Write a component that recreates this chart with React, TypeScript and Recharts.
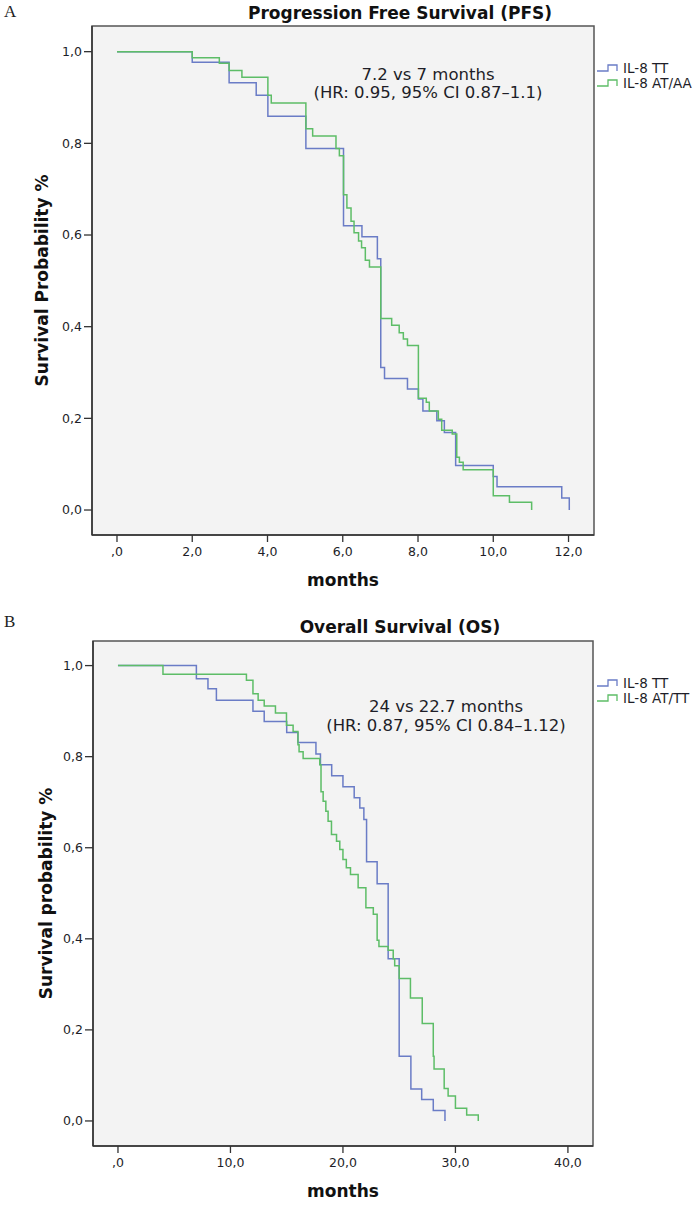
import React from 'react';
import { LineChart, Line, XAxis, YAxis, ReferenceArea, Legend } from 'recharts';

// ---------- Data ----------
// A: Progression Free Survival
const pfsMonthsTT = [0, 2.0, 2.98, 3.70, 4.01, 5.02, 6.02, 6.51, 6.92, 7.01, 7.11, 7.72, 8.01, 8.13, 8.50, 8.70, 9.00, 10.0, 10.1, 11.82, 12.02];
const pfsSurvTT = [1.0, 0.977, 0.932, 0.905, 0.859, 0.789, 0.620, 0.596, 0.548, 0.311, 0.287, 0.264, 0.242, 0.216, 0.195, 0.169, 0.097, 0.073, 0.051, 0.026, 0.0];

const pfsMonthsAT = [0, 2.0, 2.72, 2.98, 3.32, 4.01, 4.10, 5.02, 5.20, 5.82, 5.91, 6.02, 6.11, 6.22, 6.30, 6.42, 6.50, 6.60, 6.71, 7.01, 7.30, 7.50, 7.61, 7.72, 8.01, 8.22, 8.30, 8.54, 8.63, 8.91, 9.03, 9.10, 9.20, 10.0, 10.43, 11.02];
const pfsSurvAT = [1.0, 0.987, 0.975, 0.959, 0.944, 0.905, 0.888, 0.832, 0.816, 0.789, 0.773, 0.688, 0.659, 0.630, 0.605, 0.587, 0.572, 0.545, 0.530, 0.418, 0.403, 0.387, 0.373, 0.359, 0.244, 0.235, 0.216, 0.198, 0.174, 0.166, 0.115, 0.104, 0.088, 0.031, 0.017, 0.0];

// B: Overall Survival
const osMonthsTT = [0, 6.97, 8.0, 8.75, 12.0, 13.0, 15.0, 16.0, 17.6, 18.0, 19.0, 20.0, 21.0, 21.5, 21.86, 22.1, 23.04, 24.02, 25.0, 26.04, 27.0, 28.03, 29.07];
const osSurvTT = [1.0, 0.971, 0.949, 0.924, 0.900, 0.877, 0.853, 0.831, 0.806, 0.782, 0.758, 0.734, 0.710, 0.687, 0.662, 0.569, 0.521, 0.356, 0.142, 0.070, 0.047, 0.023, 0.0];

const osMonthsAT = [0, 4.0, 11.42, 12.0, 12.46, 13.0, 14.0, 14.98, 15.57, 16.0, 16.1, 16.46, 17.94, 18.05, 18.24, 18.48, 18.68, 18.98, 19.43, 19.72, 20.0, 20.3, 20.67, 21.35, 22.04, 22.7, 23.04, 23.2, 24.02, 24.47, 24.6, 25.0, 26.0, 27.05, 28.03, 28.1, 29.0, 29.35, 30.0, 31.0, 32.03];
const osSurvAT = [1.0, 0.981, 0.968, 0.938, 0.924, 0.911, 0.896, 0.869, 0.855, 0.826, 0.811, 0.796, 0.782, 0.723, 0.702, 0.680, 0.658, 0.629, 0.614, 0.596, 0.574, 0.556, 0.541, 0.512, 0.468, 0.454, 0.397, 0.383, 0.375, 0.356, 0.341, 0.313, 0.270, 0.214, 0.142, 0.114, 0.071, 0.055, 0.028, 0.013, 0.0];

const pfsXTicks = [0, 2, 4, 6, 8, 10, 12];
const osXTicks = [0, 10, 20, 30, 40];
const yTicks = [0, 0.2, 0.4, 0.6, 0.8, 1.0];

const pfsLegend = ['IL-8 TT', 'IL-8 AT/AA'];
const osLegend = ['IL-8 TT', 'IL-8 AT/TT'];
const pfsNote = ['7.2 vs 7 months', '(HR: 0.95, 95% CI 0.87\u20131.1)'];
const osNote = ['24 vs 22.7 months', '(HR: 0.87, 95% CI 0.84\u20131.12)'];

// ---------- helpers ----------
const zip = (ts: number[], ss: number[]) => ts.map((t, i) => ({ t, s: ss[i] }));
const fmtX = (v: number) => (v === 0 ? ',0' : v.toFixed(1).replace('.', ','));
const fmtY = (v: number) => v.toFixed(1).replace('.', ',');

const BLUE = '#6a7cc6';
const GREEN = '#5dbd67';
const FONT = '"DejaVu Sans", Verdana, sans-serif';
const INK = '#1e1e28';

type PanelProps = {
  top: number;
  height: number;
  axisLeft: number;
  plotRight: number;
  plotTop: number;
  xAxisH: number;
  xDomain: [number, number];
  yDomain: [number, number];
  xTicks: number[];
  tt: { t: number; s: number }[];
  at: { t: number; s: number }[];
  names: string[];
  yLabel: string;
  yLabelX: number;
};

const LegendBox = (props: any) => {
  const order: string[] = props.order || [];
  const payload = [...(props.payload || [])].sort(
    (a: any, b: any) => order.indexOf(a.value) - order.indexOf(b.value)
  );
  return (
    <div style={{ fontFamily: FONT, fontSize: 13.5, color: INK }}>
      {payload.map((p: any, i: number) => (
        <div key={i} style={{ display: 'flex', alignItems: 'center', height: 15, whiteSpace: 'nowrap' }}>
          <svg width={24} height={10} style={{ marginRight: 3 }}>
            <path d="M1,8 H12 V2 H21 V8" fill="none" stroke={p.color} strokeWidth={1.3} />
          </svg>
          <span>{p.value}</span>
        </div>
      ))}
    </div>
  );
};

function Panel(p: PanelProps) {
  const W = 700;
  const plotH = p.height - p.plotTop - p.xAxisH;
  const plotCY = p.plotTop + plotH / 2;
  const plotCX = (p.axisLeft + p.plotRight) / 2;
  return (
    <div style={{ position: 'absolute', left: 0, top: p.top, width: W, height: p.height }}>
      <LineChart
        width={W}
        height={p.height}
        margin={{ top: p.plotTop, right: W - p.plotRight, bottom: 0, left: 0 }}
      >
        <XAxis
          type="number"
          dataKey="t"
          domain={p.xDomain}
          allowDataOverflow
          ticks={p.xTicks}
          interval={0}
          tickFormatter={fmtX}
          height={p.xAxisH}
          tickSize={7}
          tickMargin={5}
          axisLine={{ stroke: '#333', strokeWidth: 1.5 }}
          tickLine={{ stroke: '#333', strokeWidth: 1.3 }}
          tick={{ fill: INK, fontSize: 12.5, fontFamily: FONT }}
          label={(lp: any) => (
            <text
              x={plotCX}
              y={p.plotTop + plotH + 45}
              textAnchor="middle"
              dominantBaseline="central"
              fontFamily={FONT}
              fontWeight="bold"
              fontSize={17}
              fill="#111"
            >
              months
            </text>
          )}
        />
        <YAxis
          type="number"
          domain={p.yDomain}
          allowDataOverflow
          ticks={yTicks}
          interval={0}
          tickFormatter={fmtY}
          width={p.axisLeft}
          tickSize={8}
          tickMargin={2}
          axisLine={{ stroke: '#333', strokeWidth: 1.5 }}
          tickLine={{ stroke: '#333', strokeWidth: 1.3 }}
          tick={{ fill: INK, fontSize: 12.5, fontFamily: FONT }}
          label={(lp: any) => (
            <text
              x={p.yLabelX}
              y={plotCY}
              transform={`rotate(-90, ${p.yLabelX}, ${plotCY})`}
              textAnchor="middle"
              dominantBaseline="central"
              fontFamily={FONT}
              fontWeight="bold"
              fontSize={17}
              fill="#111"
            >
              {p.yLabel}
            </text>
          )}
        />
        <ReferenceArea
          x1={p.xDomain[0]}
          x2={p.xDomain[1]}
          y1={p.yDomain[0]}
          y2={p.yDomain[1]}
          fill="#f3f3f3"
          fillOpacity={1}
          stroke="#555"
          strokeWidth={1.5}
          ifOverflow="visible"
        />
        <Line
          data={p.tt}
          dataKey="s"
          name={p.names[0]}
          type="stepAfter"
          stroke={BLUE}
          strokeWidth={1.5}
          dot={false}
          activeDot={false}
          isAnimationActive={false}
        />
        <Line
          data={p.at}
          dataKey="s"
          name={p.names[1]}
          type="stepAfter"
          stroke={GREEN}
          strokeWidth={1.5}
          dot={false}
          activeDot={false}
          isAnimationActive={false}
        />
        <Legend
          layout="vertical"
          align="center"
          verticalAlign="middle"
          content={<LegendBox order={p.names} />}
          wrapperStyle={{ position: 'absolute', left: 596, top: 60, width: 104, height: 32 }}
        />
      </LineChart>
    </div>
  );
}

const textBase: React.CSSProperties = {
  position: 'absolute',
  whiteSpace: 'nowrap',
  fontFamily: FONT,
  color: INK,
};

export default function App() {
  return (
    <div style={{ position: 'absolute', left: 0, top: 0, width: 700, height: 1208, background: '#fff', overflow: 'hidden' }}>
      {/* Panel A */}
      <div style={{ ...textBase, left: 4, top: 2, fontFamily: '"Liberation Serif", serif', fontSize: 17, color: '#222' }}>A</div>
      <div style={{ ...textBase, left: 400, top: 3, transform: 'translateX(-50%)', fontWeight: 'bold', fontSize: 17, color: '#111' }}>
        Progression Free Survival (PFS)
      </div>
      <Panel
        top={0}
        height={600}
        axisLeft={92}
        plotRight={594}
        plotTop={26}
        xAxisH={65}
        xDomain={[-0.664, 12.677]}
        yDomain={[-0.0545, 1.056]}
        xTicks={pfsXTicks}
        tt={zip(pfsMonthsTT, pfsSurvTT)}
        at={zip(pfsMonthsAT, pfsSurvAT)}
        names={pfsLegend}
        yLabel="Survival Probability %"
        yLabelX={42}
      />
      <div style={{ ...textBase, left: 428, top: 66, transform: 'translateX(-50%)', fontSize: 16.5, lineHeight: '18px', textAlign: 'center' }}>
        {pfsNote[0]}
        <br />
        {pfsNote[1]}
      </div>

      {/* Panel B */}
      <div style={{ ...textBase, left: 4, top: 612, fontFamily: '"Liberation Serif", serif', fontSize: 17, color: '#222' }}>B</div>
      <div style={{ ...textBase, left: 400, top: 617, transform: 'translateX(-50%)', fontWeight: 'bold', fontSize: 17, color: '#111' }}>
        Overall Survival (OS)
      </div>
      <Panel
        top={615}
        height={593}
        axisLeft={93}
        plotRight={593}
        plotTop={26}
        xAxisH={62}
        xDomain={[-2.22, 42.23]}
        yDomain={[-0.055, 1.054]}
        xTicks={osXTicks}
        tt={zip(osMonthsTT, osSurvTT)}
        at={zip(osMonthsAT, osSurvAT)}
        names={osLegend}
        yLabel="Survival probability %"
        yLabelX={46}
      />
      <div style={{ ...textBase, left: 446, top: 697, transform: 'translateX(-50%)', fontSize: 16.5, lineHeight: '19px', textAlign: 'center' }}>
        {osNote[0]}
        <br />
        {osNote[1]}
      </div>
    </div>
  );
}
